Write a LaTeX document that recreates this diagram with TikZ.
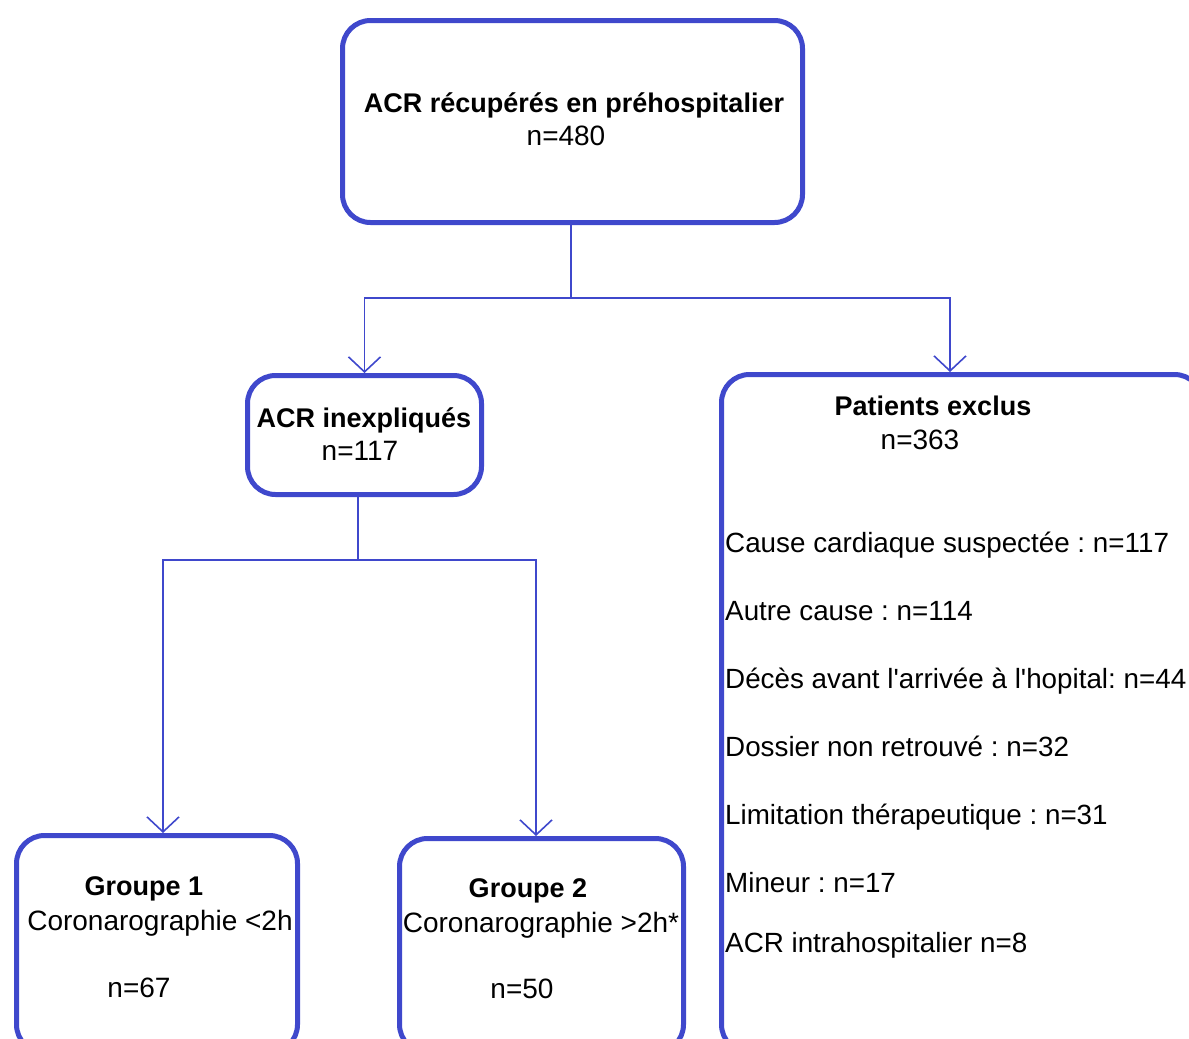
\documentclass[tikz,border=0pt]{standalone}
\usepackage{fontspec}
\setmainfont{Liberation Sans}[Ligatures=TeXOff]
\usepackage{tikz}
\usetikzlibrary{arrows.meta}
\definecolor{indigo}{RGB}{63,72,204}
\frenchspacing
\tikzset{
	boite/.style={draw=indigo, line width=5pt, rounded corners=28pt, inner sep=0pt},
	lien/.style={draw=indigo, line width=1.6pt},
	fleche/.style={lien, -{Straight Barb[length=15pt, width=32pt, line width=1.6pt]}},
	txt/.style={anchor=base, inner sep=0pt, font=\fontsize{28}{34}\selectfont},
	titre/.style={txt, font=\fontsize{27}{34}\selectfont\bfseries},
	liste/.style={txt, anchor=base west, font=\fontsize{27.8}{34}\selectfont}
}
\begin{document}
\begin{tikzpicture}[x=1pt, y=-1pt]
			\useasboundingbox (0, 0) rectangle (1189, 1039);
			\clip (0, 0) rectangle (1189, 1039); %cut like the original
			\node[boite, minimum width=460pt, minimum height=202pt] (recup) at (572.5, 121.5) {};
			\node[boite, minimum width=234pt, minimum height=119pt] (inexp) at (364.5, 435) {};
			\node[boite, minimum width=481pt, minimum height=678pt] (exclus) at (962, 713.5) {};
			\node[boite, minimum width=281pt, minimum height=217pt] (grp1) at (157, 944) {};
			\node[boite, minimum width=284pt, minimum height=214pt] (grp2) at (541.5, 945.5) {};

			\node[titre] (recupT) at (574, 112) {ACR récupérés en préhospitalier};
			\node[txt] (recupN) at (566, 145) {n=480};
			\node[titre] (inexpT) at (364, 427) {ACR inexpliqués};
			\node[txt] (inexpN) at (360, 460) {n=117};
			\node[titre] (exclusT) at (933, 415) {Patients exclus};
			\node[txt] (exclusN) at (920, 449) {n=363};
			\node[titre] (grp1T) at (144, 895) {Groupe 1};
			\node[txt] (grp1C) at (160, 930) {Coronarographie <2h};
			\node[txt] (grp1N) at (139, 997) {n=67};
			\node[titre] (grp2T) at (528, 897) {Groupe 2};
			\node[txt] (grp2C) at (541, 932) {Coronarographie >2h*};
			\node[txt] (grp2N) at (522, 998) {n=50};

			\node[liste] (cause1) at (725, 552) {Cause cardiaque suspectée : n=117};
			\node[liste] (cause2) at (725, 620) {Autre cause : n=114};
			\node[liste] (cause3) at (725, 688) {Décès avant l'arrivée à l'hopital: n=44};
			\node[liste] (cause4) at (725, 756) {Dossier non retrouvé : n=32};
			\node[liste] (cause5) at (725, 824) {Limitation thérapeutique : n=31};
			\node[liste] (cause6) at (725, 892) {Mineur : n=17};
			\node[liste] (cause7) at (725, 952) {ACR intrahospitalier n=8};

			\coordinate (nd1) at (571, 298);
			\coordinate (nd2) at (358, 560);
			\draw[lien] (nd1 |- recup.south) -- (nd1);
			\draw[fleche] (nd1) -| (inexp.north);
			\draw[fleche] (nd1) -| ([xshift=-12pt]exclus.north);
			\draw[lien] (nd2 |- inexp.south) -- (nd2);
			\draw[fleche] (nd2) -| ([xshift=6pt]grp1.north);
			\draw[fleche] (nd2) -| ([xshift=-5.5pt]grp2.north);
\end{tikzpicture}
\end{document}
